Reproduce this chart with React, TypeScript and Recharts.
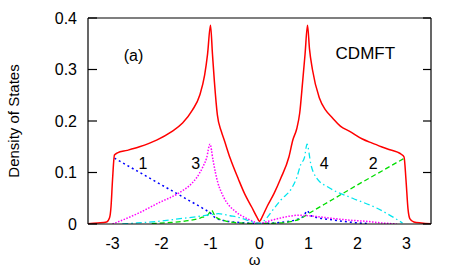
import { LineChart, Line, XAxis, YAxis, ReferenceDot } from "recharts"

const xTicks = [-3, -2, -1, 0, 1, 2, 3]
const yTicks = [0, 0.1, 0.2, 0.3, 0.4]

// total DOS (red, solid)
const totalW = [-3.5, -3.3, -3.12, -3.06, -3.03, -3.0, -2.96, -2.9, -2.7, -2.45, -2.1, -1.8, -1.57, -1.37, -1.22, -1.12, -1.06, -1.0, -0.96, -0.92, -0.86, -0.78, -0.72, -0.6, -0.43, -0.3, -0.16, -0.05, 0, 0.05, 0.16, 0.3, 0.43, 0.6, 0.68, 0.76, 0.82, 0.88, 0.93, 0.98, 1.02, 1.08, 1.22, 1.35, 1.49, 1.65, 1.84, 2.1, 2.3, 2.6, 2.9, 2.95, 2.99, 3.03, 3.07, 3.15, 3.3, 3.5]
const totalDos = [0.0005, 0.002, 0.004, 0.012, 0.034, 0.085, 0.134, 0.138, 0.143, 0.15, 0.163, 0.179, 0.196, 0.221, 0.25, 0.289, 0.33, 0.386, 0.33, 0.276, 0.212, 0.18, 0.163, 0.128, 0.087, 0.058, 0.033, 0.013, 0.005, 0.013, 0.035, 0.06, 0.088, 0.13, 0.163, 0.185, 0.215, 0.276, 0.33, 0.386, 0.34, 0.3, 0.245, 0.221, 0.206, 0.19, 0.18, 0.165, 0.157, 0.146, 0.135, 0.13, 0.085, 0.03, 0.01, 0.004, 0.002, 0.0005]

// component 1 (blue, dotted)
const w1 = [-2.96, -2.5, -2.0, -1.5, -1.15, -1.0, -0.9, -0.7, -0.4, 0, 0.5, 0.8, 0.92, 0.97, 1.05, 1.2, 1.5, 1.8, 2.2]
const dos1 = [0.128, 0.103, 0.076, 0.049, 0.03, 0.021, 0.012, 0.006, 0.003, 0.001, 0.004, 0.01, 0.018, 0.026, 0.016, 0.012, 0.008, 0.004, 0.001]

// component 2 (green, dashed)
const w2 = [-2.2, -1.8, -1.5, -1.2, -1.05, -0.98, -0.9, -0.7, -0.4, 0, 0.4, 0.6, 0.85, 1.0, 1.5, 2.0, 2.5, 2.96]
const dos2 = [0.001, 0.003, 0.006, 0.012, 0.018, 0.027, 0.014, 0.006, 0.002, 0.001, 0.002, 0.004, 0.011, 0.02, 0.048, 0.076, 0.103, 0.128]

// component 3 (magenta, dotted)
const w3 = [-3.0, -2.47, -2.06, -1.65, -1.37, -1.29, -1.16, -1.08, -1.01, -0.95, -0.9, -0.85, -0.78, -0.69, -0.5, -0.29, -0.1, 0, 0.2, 0.4, 0.6, 0.8, 1.0, 1.3, 1.57, 1.9, 2.2, 2.5, 2.8]
const dos3 = [0, 0.021, 0.041, 0.06, 0.08, 0.089, 0.11, 0.128, 0.155, 0.125, 0.1, 0.08, 0.062, 0.045, 0.025, 0.012, 0.004, 0.001, 0.006, 0.011, 0.015, 0.017, 0.016, 0.013, 0.01, 0.007, 0.005, 0.002, 0]

// component 4 (cyan, dash-dot)
const w4 = [-2.8, -2.5, -2.2, -1.9, -1.57, -1.3, -1.0, -0.84, -0.6, -0.43, -0.2, 0, 0.15, 0.27, 0.44, 0.66, 0.76, 0.84, 0.92, 0.97, 1.05, 1.16, 1.43, 1.9, 2.39, 2.92]
const dos4 = [0, 0.002, 0.004, 0.007, 0.011, 0.014, 0.018, 0.02, 0.016, 0.013, 0.006, 0.001, 0.012, 0.027, 0.047, 0.07, 0.09, 0.115, 0.13, 0.155, 0.115, 0.09, 0.07, 0.05, 0.031, 0.002]

const zip = (w: number[], d: number[]) => w.map((x, i) => ({ x, y: d[i] }))

const font = "'Liberation Sans', Arial, Helvetica, sans-serif"
const blank = () => ""
const frame = { stroke: "#000", strokeWidth: 1.2 }

export default function App() {
  const lab = (value: string, size = 16) => ({
    value,
    position: "center" as const,
    fill: "#000",
    fontSize: size,
    fontFamily: font,
  })

  return (
    <div style={{ position: "absolute", left: 0, top: 0, width: 463, height: 273, background: "#fff", fontFamily: font }}>
      <LineChart width={463} height={273} margin={{ top: 18, right: 32, left: 8, bottom: 4 }}>
        <XAxis
          xAxisId="main"
          type="number"
          dataKey="x"
          domain={[-3.5, 3.5]}
          ticks={xTicks}
          allowDataOverflow
          height={45}
          tickLine={false}
          tickSize={0}
          tickMargin={14}
          axisLine={frame}
          tick={{ fill: "#000", fontSize: 16, fontFamily: font }}
          label={{ value: "ω", position: "insideBottom", offset: 4, dx: -5, fill: "#000", fontSize: 15, fontFamily: font }}
        />
        <XAxis
          xAxisId="bottomTicks"
          type="number"
          domain={[-3.5, 3.5]}
          ticks={xTicks}
          allowDataOverflow
          mirror
          tickFormatter={blank}
          tickSize={6}
          axisLine={false}
          tickLine={frame}
        />
        <XAxis
          xAxisId="top"
          orientation="top"
          type="number"
          domain={[-3.5, 3.5]}
          ticks={xTicks}
          allowDataOverflow
          mirror
          tickFormatter={blank}
          tickSize={6}
          axisLine={frame}
          tickLine={frame}
        />
        <YAxis
          yAxisId="main"
          type="number"
          domain={[0, 0.4]}
          ticks={yTicks}
          allowDataOverflow
          width={80}
          tickLine={false}
          tickSize={0}
          tickMargin={11}
          axisLine={frame}
          tick={{ fill: "#000", fontSize: 16, fontFamily: font }}
          tickFormatter={(v: number) => (v === 0 ? "0" : v.toFixed(1))}
          label={{
            value: "Density of States",
            angle: -90,
            position: "insideLeft",
            offset: 6,
            style: { textAnchor: "middle" },
            fill: "#000",
            fontSize: 15,
            fontFamily: font,
          }}
        />
        <YAxis
          yAxisId="leftTicks"
          type="number"
          domain={[0, 0.4]}
          ticks={yTicks}
          allowDataOverflow
          mirror
          tickFormatter={blank}
          tickSize={9}
          axisLine={false}
          tickLine={frame}
        />
        <YAxis
          yAxisId="right"
          orientation="right"
          type="number"
          domain={[0, 0.4]}
          ticks={yTicks}
          allowDataOverflow
          mirror
          tickFormatter={blank}
          tickSize={8}
          axisLine={frame}
          tickLine={frame}
        />

        <Line xAxisId="main" yAxisId="main" data={zip(w1, dos1)} dataKey="y" type="monotone" stroke="#0000ff" strokeWidth={1.5} strokeDasharray="2 3" dot={false} isAnimationActive={false} />
        <Line xAxisId="main" yAxisId="main" data={zip(w2, dos2)} dataKey="y" type="monotone" stroke="#00dd00" strokeWidth={1.3} strokeDasharray="5 3" dot={false} isAnimationActive={false} />
        <Line xAxisId="main" yAxisId="main" data={zip(w3, dos3)} dataKey="y" type="monotone" stroke="#ff00ff" strokeWidth={1.5} strokeDasharray="1.5 1.5" dot={false} isAnimationActive={false} />
        <Line xAxisId="main" yAxisId="main" data={zip(w4, dos4)} dataKey="y" type="monotone" stroke="#00e5ee" strokeWidth={1.3} strokeDasharray="6 3 1.5 3" dot={false} isAnimationActive={false} />
        <Line xAxisId="main" yAxisId="main" data={zip(totalW, totalDos)} dataKey="y" type="monotone" stroke="#ff0000" strokeWidth={1.5} dot={false} isAnimationActive={false} />

        <ReferenceDot xAxisId="main" yAxisId="main" x={-2.57} y={0.328} r={0} fill="none" stroke="none" label={lab("(a)")} />
        <ReferenceDot xAxisId="main" yAxisId="main" x={2.16} y={0.332} r={0} fill="none" stroke="none" label={lab("CDMFT", 17)} />
        <ReferenceDot xAxisId="main" yAxisId="main" x={-2.38} y={0.118} r={0} fill="none" stroke="none" label={lab("1")} />
        <ReferenceDot xAxisId="main" yAxisId="main" x={-1.3} y={0.118} r={0} fill="none" stroke="none" label={lab("3")} />
        <ReferenceDot xAxisId="main" yAxisId="main" x={1.32} y={0.118} r={0} fill="none" stroke="none" label={lab("4")} />
        <ReferenceDot xAxisId="main" yAxisId="main" x={2.32} y={0.118} r={0} fill="none" stroke="none" label={lab("2")} />
      </LineChart>
    </div>
  )
}
